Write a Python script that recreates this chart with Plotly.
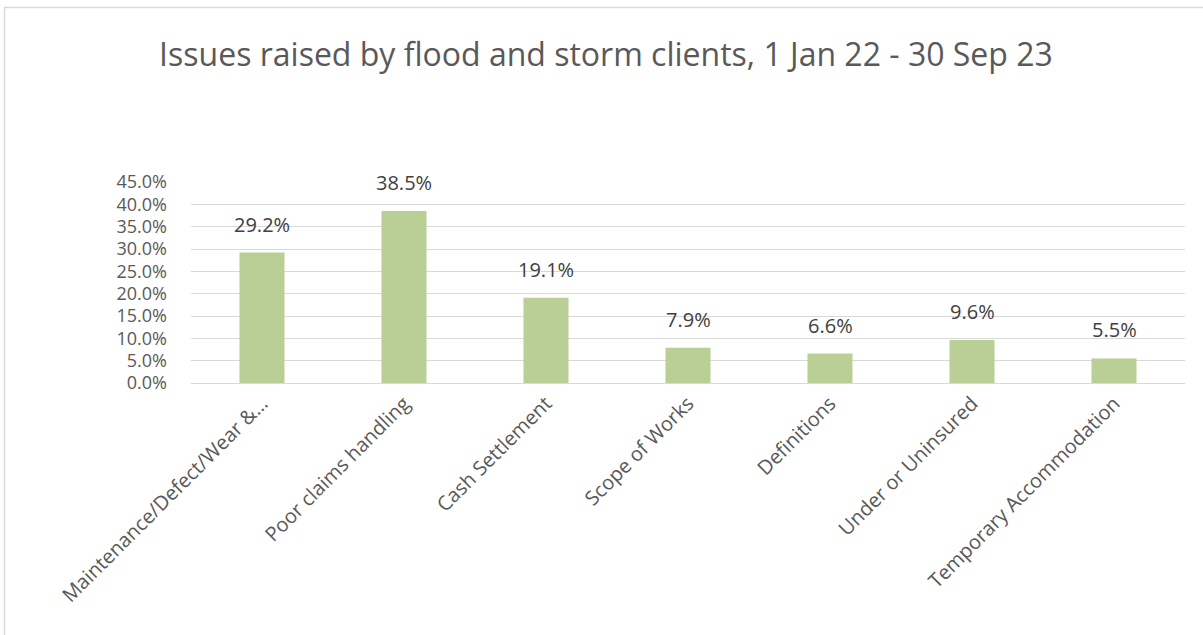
import plotly.graph_objects as go

categories = [
    "Maintenance/Defect/Wear &…",
    "Poor claims handling",
    "Cash Settlement",
    "Scope of Works",
    "Definitions",
    "Under or Uninsured",
    "Temporary Accommodation",
]
values = [0.292, 0.385, 0.191, 0.079, 0.066, 0.096, 0.055]
y_ticks = [0.0, 0.05, 0.10, 0.15, 0.20, 0.25, 0.30, 0.35, 0.40, 0.45]

title_text = "Issues raised by flood and storm clients, 1 Jan 22 - 30 Sep 23"

FONT = "Open Sans"
TXT = "#595959"

fig = go.Figure()
fig.add_trace(go.Bar(
    x=categories,
    y=values,
    marker=dict(color="#B9CF95", line=dict(width=0)),
    width=0.317,
    hoverinfo="skip",
))

for c, v in zip(categories, values):
    fig.add_annotation(
        x=c, y=v, text=f"{v*100:.1f}%", showarrow=False,
        yanchor="bottom", yshift=13,
        font=dict(family=FONT, size=20, color="#404040"),
    )

fig.update_layout(
    width=1203, height=635,
    margin=dict(l=191, r=18, t=182, b=252),
    paper_bgcolor="white", plot_bgcolor="white",
    showlegend=False,
    title=dict(
        text=title_text, x=0.5037, xanchor="center", y=0.913, yanchor="middle",
        font=dict(family=FONT, size=32, color=TXT),
    ),
    xaxis=dict(
        tickangle=-45,
        tickfont=dict(family=FONT, size=20, color=TXT),
        showgrid=False, showline=True, linecolor="#D9D9D9", linewidth=1,
        ticks="",
    ),
    yaxis=dict(
        range=[0, 0.45], tickvals=y_ticks, tickformat=".1%",
        tickfont=dict(family=FONT, size=18, color=TXT),
        showgrid=True, gridcolor="#D9D9D9", gridwidth=1,
        zeroline=False, showline=False, ticks="", ticklabelstandoff=23,
    ),
    shapes=[dict(
        type="rect", xref="paper", yref="paper",
        x0=-0.1876, x1=1.2, y0=-2.0, y1=1.868,
        line=dict(color="#D9D9D9", width=1.5), fillcolor="rgba(0,0,0,0)",
        layer="below",
    )],
)

fig.write_html(
    "out.html",
    config={"displayModeBar": False},
    post_script="document.body.style.margin='0';document.body.style.overflow='hidden';",
)
